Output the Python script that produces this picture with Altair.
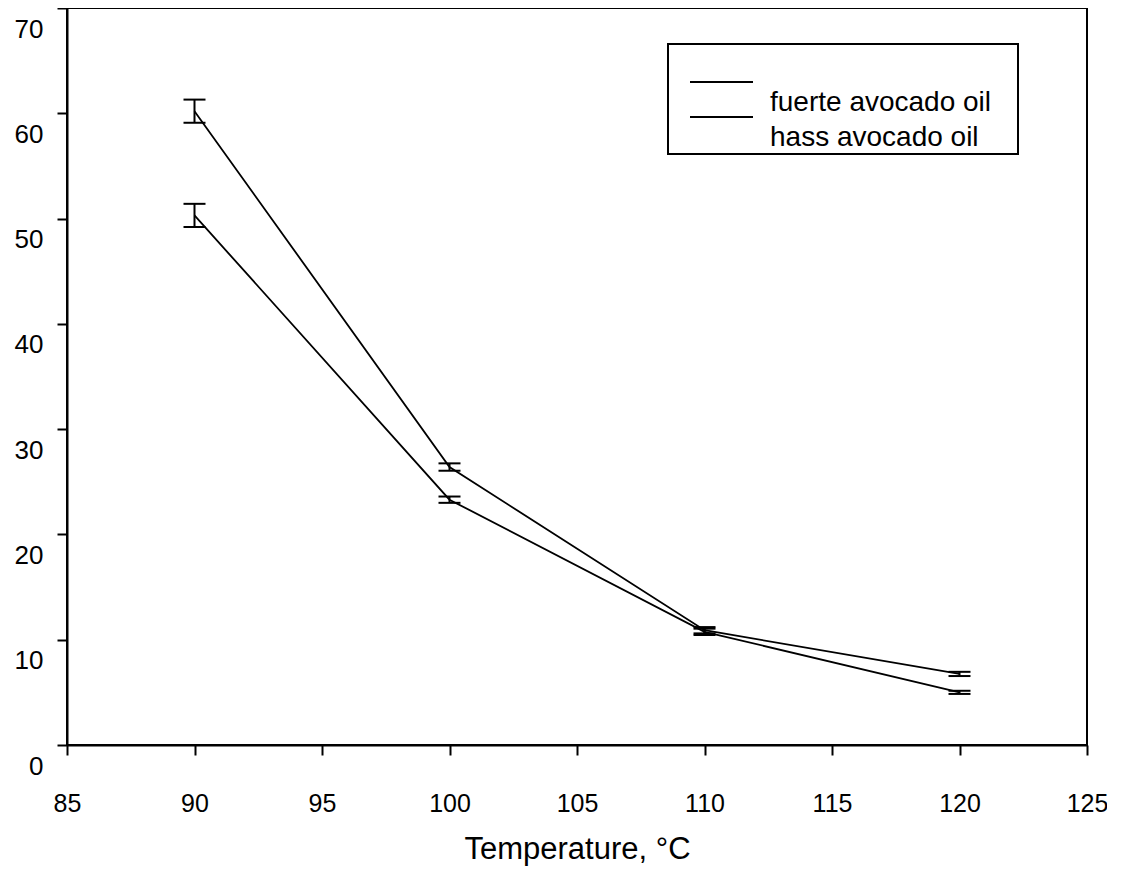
import altair as alt
import pandas as pd

temps = [90, 100, 110, 120]
series_names = ["fuerte avocado oil", "hass avocado oil"]
fuerte_vals = [60.2, 26.4, 10.9, 6.75]
fuerte_err = [1.1, 0.35, 0.3, 0.2]
hass_vals = [50.3, 23.3, 10.75, 5.0]
hass_err = [1.1, 0.3, 0.3, 0.15]
x_ticks = [85, 90, 95, 100, 105, 110, 115, 120, 125]
y_ticks = [0, 10, 20, 30, 40, 50, 60, 70]

rows = []
for name, vals, errs in zip(series_names, [fuerte_vals, hass_vals], [fuerte_err, hass_err]):
    for t, v, e in zip(temps, vals, errs):
        rows.append(dict(series=name, temp=t, value=v, lo=v - e, hi=v + e))
df = pd.DataFrame(rows)

FONT = "Liberation Sans"

x_enc = alt.X(
    "temp:Q",
    scale=alt.Scale(domain=[85, 125], nice=False, zero=False),
    axis=alt.Axis(
        values=x_ticks, title="Temperature, °C", grid=False,
        labelFontSize=25, labelBaseline="middle", labelPadding=48,
        titleFontSize=31, titlePadding=18, titleFontWeight="normal",
        labelFlush=False,
    ),
)
y_scale = alt.Scale(domain=[0, 70], nice=False, zero=False)
y_axis = alt.Axis(
    values=y_ticks, title=None, grid=False,
    labelFontSize=26, labelPadding=14, labelOffset=21, labelBaseline="middle",
    labelFlush=False,
)

base = alt.Chart(df)

lines = base.mark_line(color="black", strokeWidth=1.8).encode(
    x=x_enc,
    y=alt.Y("value:Q", scale=y_scale, axis=y_axis),
    detail="series:N",
)
bars = base.mark_rule(color="black", strokeWidth=2).encode(
    x="temp:Q", y=alt.Y("lo:Q", scale=y_scale), y2="hi:Q"
)
cap_lo = base.mark_tick(color="black", orient="horizontal", size=22, thickness=2, opacity=1).encode(
    x="temp:Q", y=alt.Y("lo:Q", scale=y_scale)
)
cap_hi = base.mark_tick(color="black", orient="horizontal", size=22, thickness=2, opacity=1).encode(
    x="temp:Q", y=alt.Y("hi:Q", scale=y_scale)
)

one = alt.Chart(pd.DataFrame({"k": [0]}))
leg_box = one.mark_rect(fill="white", stroke="black", strokeWidth=2).encode(
    x=alt.value(601), x2=alt.value(951), y=alt.value(36), y2=alt.value(146)
)
leg_line1 = one.mark_rule(color="black", strokeWidth=2).encode(
    x=alt.value(623), x2=alt.value(686), y=alt.value(74)
)
leg_line2 = one.mark_rule(color="black", strokeWidth=2).encode(
    x=alt.value(623), x2=alt.value(686), y=alt.value(109)
)
leg_text1 = one.mark_text(align="left", baseline="middle", fontSize=28, font=FONT, color="black").encode(
    x=alt.value(703), y=alt.value(95), text=alt.value(series_names[0])
)
leg_text2 = one.mark_text(align="left", baseline="middle", fontSize=28, font=FONT, color="black").encode(
    x=alt.value(703), y=alt.value(130), text=alt.value(series_names[1])
)

chart = alt.layer(
    lines, bars, cap_lo, cap_hi,
    leg_box, leg_line1, leg_line2, leg_text1, leg_text2,
).properties(
    width=1020, height=737,
    background="white",
    autosize=alt.AutoSizeParams(type="none"),
    padding={"left": 59, "top": 0, "right": 20, "bottom": 125},
).configure_view(
    stroke="black", strokeWidth=2
).configure_axis(
    domainColor="black", domainWidth=2, tickColor="black", tickWidth=2, tickSize=10,
    labelColor="black", titleColor="black", labelFont=FONT, titleFont=FONT,
)

chart.save("out.html", embed_options={"renderer": "svg", "actions": False})
